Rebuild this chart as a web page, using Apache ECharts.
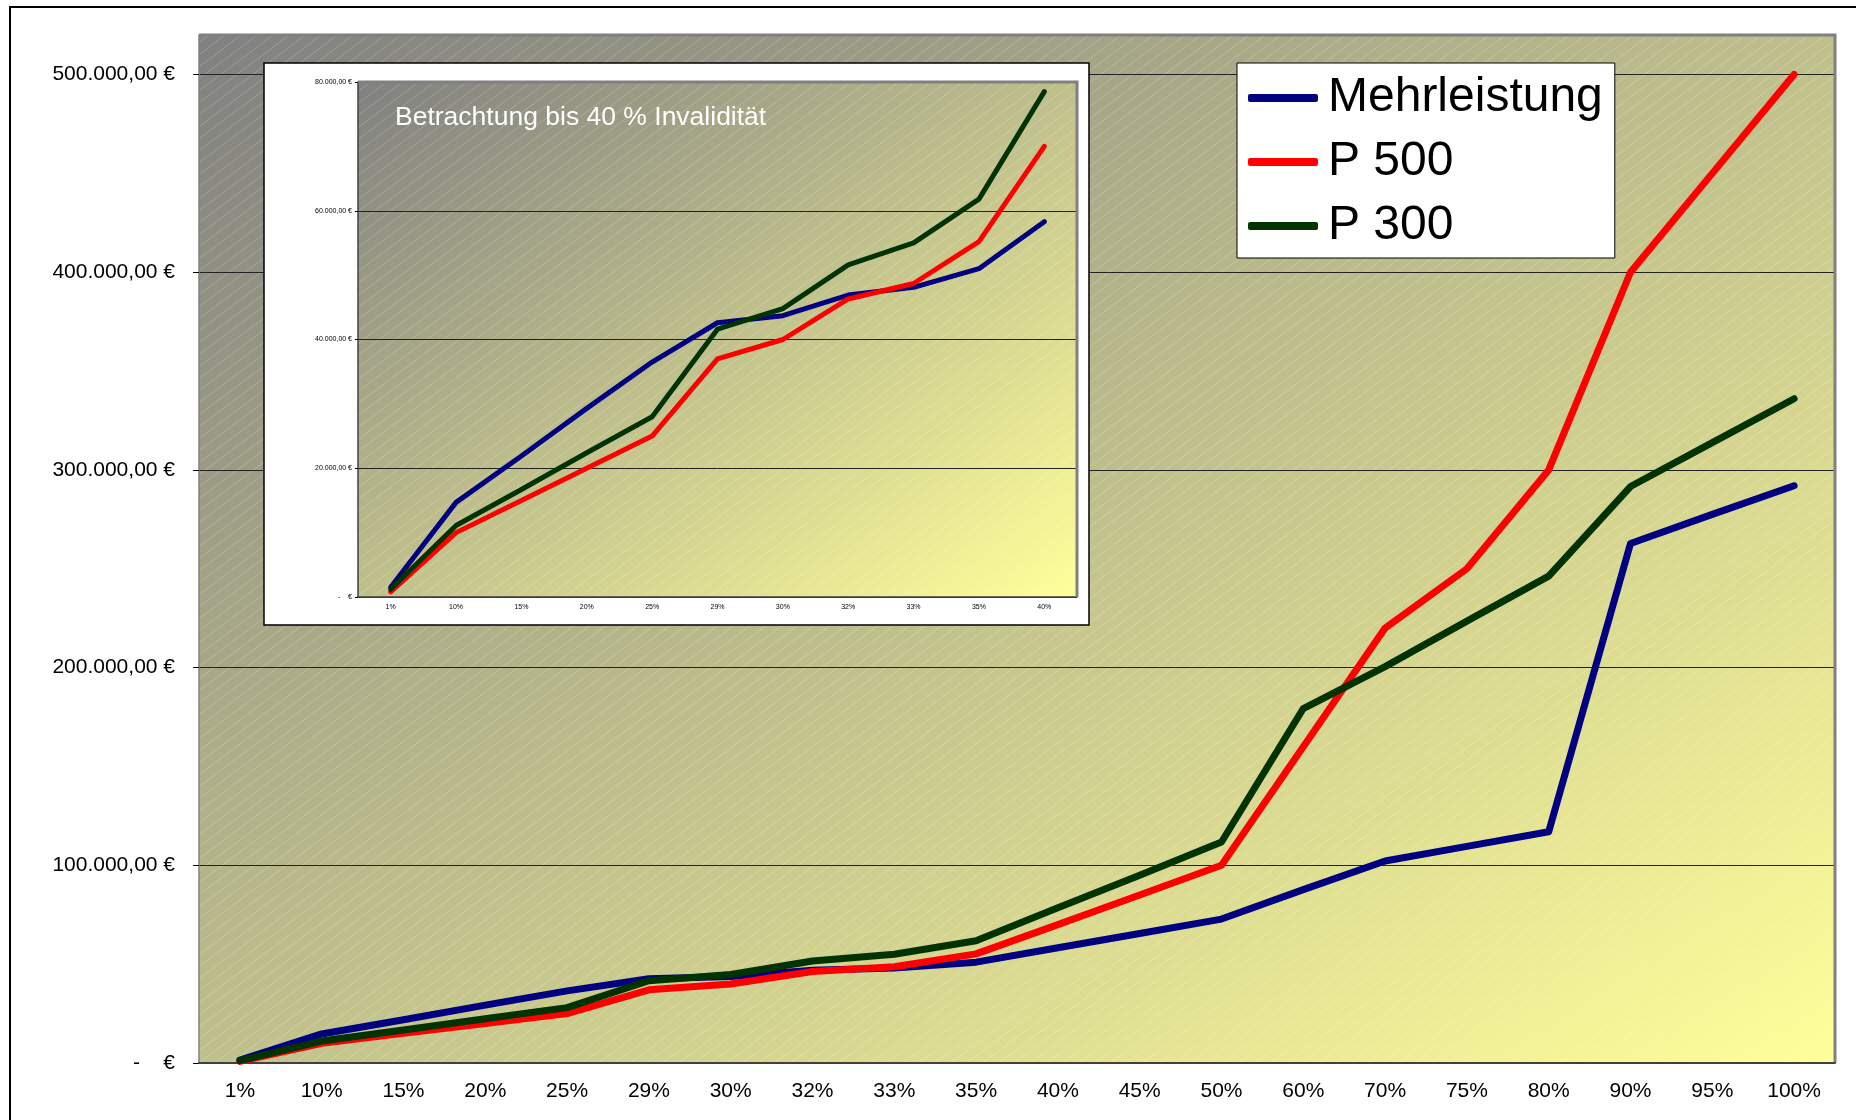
<!DOCTYPE html>
<html>
<head>
<meta charset="utf-8">
<title>Mehrleistung P 500 P 300</title>
<script src="https://cdn.jsdelivr.net/npm/echarts@6.0.0/dist/echarts.min.js"></script>
<style>
  html, body { margin: 0; padding: 0; background: #fff; }
  #chart { width: 1856px; height: 1120px; }
</style>
</head>
<body>
<div id="chart"></div>
<script>
// Invaliditaetsgrade
var categories = ['1%', '10%', '15%', '20%', '25%', '29%', '30%', '32%', '33%', '35%',
  '40%', '45%', '50%', '60%', '70%', '75%', '80%', '90%', '95%', '100%'];
var mehrleistung = [1500, 14700, 21900, 29300, 36500, 42600, 43700, 46900, 48100, 51000,
  58300, 65500, 72800, 87700, 102200, 109600, 117000, 262800, 277500, 292000];
var p500 = [800, 10000, 15000, 20000, 25000, 37000, 40000, 46300, 48700, 55200,
  70000, 85000, 100000, 160000, 220000, 250000, 300000, 400000, 450000, 500000];
var p300 = [1200, 11100, 16700, 22400, 28000, 41600, 44800, 51600, 55000, 61800,
  78500, 95000, 111800, 179300, 200500, 223500, 246300, 291600, 313800, 336000];
var mainTicks = [0, 100000, 200000, 300000, 400000, 500000];
// kleines Diagramm: bis 40 %
var insetCount = 11;

var FONT = 'Liberation Sans, Arial, sans-serif';
var gMain = { left: 199, top: 35, width: 1636, height: 1028 };
var gInset = { left: 358, top: 82, width: 719, height: 515 };

function eur(v) {
  if (v === 0) return '-    \u20ac';
  var s = String(Math.round(v)).replace(/\B(?=(\d{3})+(?!\d))/g, '.');
  return s + ',00 \u20ac';
}

// Verlauf grau -> hellgelb, diagonal wie in Excel
function plotFill(g) {
  var w = g.width, h = g.height, d = w * w + h * h;
  return new echarts.graphic.LinearGradient(0, 0, 2 * h * h / d, 2 * w * w / d, [
    { offset: 0, color: '#808080' },
    { offset: 1, color: '#FFFF99' }
  ]);
}

function hatch() {
  var c = document.createElement('canvas');
  c.width = 16; c.height = 12;
  var ctx = c.getContext('2d');
  ctx.strokeStyle = 'rgba(255,255,255,0.2)';
  ctx.lineWidth = 1;
  for (var k = -1; k <= 1; k++) {
    ctx.beginPath();
    ctx.moveTo(k * 16, 12);
    ctx.lineTo(k * 16 + 16, 0);
    ctx.stroke();
  }
  return c;
}
var hatchImg = hatch();

function plotBg(g, z) {
  return [
    { type: 'rect', silent: true, z: z, shape: { x: g.left, y: g.top, width: g.width, height: g.height },
      style: { fill: plotFill(g) } },
    { type: 'rect', silent: true, z: z + 0.1, shape: { x: g.left, y: g.top, width: g.width, height: g.height },
      style: { fill: { image: hatchImg, repeat: 'repeat' } } }
  ];
}
function plotEdge(g, z) {
  return { type: 'polyline', silent: true, z: z,
    shape: { points: [[g.left, g.top], [g.left + g.width, g.top], [g.left + g.width, g.top + g.height]] },
    style: { stroke: '#808080', lineWidth: 3, fill: null } };
}

function line(name, data, color, width, idx, z) {
  return {
    name: name, type: 'line', data: data,
    xAxisIndex: idx, yAxisIndex: idx, z: z,
    showSymbol: false, symbol: 'none', silent: true,
    itemStyle: { color: color },
    lineStyle: { color: color, width: width, cap: 'round', join: 'round' }
  };
}

var chart = echarts.init(document.getElementById('chart'));
var insetCats = categories.slice(0, insetCount);

var graphics = []
  .concat(plotBg(gMain, -3))
  .concat([plotEdge(gMain, 1)])
  .concat([{ type: 'rect', silent: true, z: 5, shape: { x: 264, y: 63, width: 825, height: 562 },
    style: { fill: '#fff', stroke: '#000', lineWidth: 1.5 } }])
  .concat(plotBg(gInset, 6))
  .concat([plotEdge(gInset, 9)])
  .concat([
    { type: 'text', silent: true, z: 10, left: 395, top: 104,
      style: { text: 'Betrachtung bis 40 % Invalidit\u00e4t', fill: '#fff', font: '26.5px ' + FONT } },
    { type: 'rect', silent: true, z: 30, shape: { x: 10, y: 7, width: 1900, height: 1200 },
      style: { fill: null, stroke: '#000', lineWidth: 2 } }
  ]);

var option = {
  animation: false,
  backgroundColor: '#fff',
  textStyle: { fontFamily: FONT },
  graphic: { elements: graphics },
  legend: {
    data: ['Mehrleistung', 'P 500', 'P 300'],
    orient: 'vertical', left: 1237, top: 63,
    padding: [11, 12, 8, 11], itemGap: 16,
    itemWidth: 70, itemHeight: 8, icon: 'roundRect',
    backgroundColor: '#fff', borderColor: '#000', borderWidth: 1,
    selectedMode: false, z: 20,
    textStyle: { fontSize: 48, color: '#000', fontFamily: FONT, padding: [0, 0, 0, 5] }
  },
  grid: [
    { left: gMain.left, top: gMain.top, width: gMain.width, height: gMain.height },
    { left: gInset.left, top: gInset.top, width: gInset.width, height: gInset.height }
  ],
  xAxis: [
    {
      type: 'category', gridIndex: 0, data: categories, boundaryGap: true, z: 1,
      axisLine: { lineStyle: { color: '#404040', width: 2 } },
      axisTick: { length: 6, lineStyle: { color: '#404040', width: 1.5 } },
      axisLabel: { interval: 0, fontSize: 21, color: '#000', margin: 18, fontFamily: FONT },
      splitLine: { show: false }
    },
    {
      type: 'category', gridIndex: 1, data: insetCats, boundaryGap: true, z: 8,
      axisLine: { lineStyle: { color: '#404040', width: 1.5 } },
      axisTick: { length: 3, lineStyle: { color: '#404040', width: 1 } },
      axisLabel: { interval: 0, fontSize: 7, color: '#000', margin: 7, fontFamily: FONT },
      splitLine: { show: false }
    }
  ],
  yAxis: [
    {
      type: 'value', gridIndex: 0, min: 0, max: 520000, interval: 100000, z: 0,
      axisLine: { show: true, lineStyle: { color: '#808080', width: 1.5 } },
      axisTick: { show: true, length: 6, customValues: mainTicks, lineStyle: { color: '#000', width: 1 } },
      axisLabel: { fontSize: 21, color: '#000', margin: 24, fontFamily: FONT,
        customValues: mainTicks, formatter: eur },
      splitLine: { show: true, lineStyle: { color: '#222', width: 1 } }
    },
    {
      type: 'value', gridIndex: 1, min: 0, max: 80000, interval: 20000, z: 8,
      axisLine: { show: true, lineStyle: { color: '#404040', width: 1.5 } },
      axisTick: { show: true, length: 3, lineStyle: { color: '#000', width: 1 } },
      axisLabel: { fontSize: 7, color: '#000', margin: 6, fontFamily: FONT, formatter: eur },
      splitLine: { show: true, lineStyle: { color: '#222', width: 1 } }
    }
  ],
  series: [
    line('Mehrleistung', mehrleistung, '#000080', 7, 0, 2),
    line('P 500', p500, '#FF0000', 7, 0, 2),
    line('P 300', p300, '#003300', 7, 0, 2),
    line('Mehrleistung', mehrleistung.slice(0, insetCount), '#000080', 5, 1, 9),
    line('P 500', p500.slice(0, insetCount), '#FF0000', 5, 1, 9),
    line('P 300', p300.slice(0, insetCount), '#003300', 5, 1, 9)
  ]
};
chart.setOption(option);
</script>
</body>
</html>
